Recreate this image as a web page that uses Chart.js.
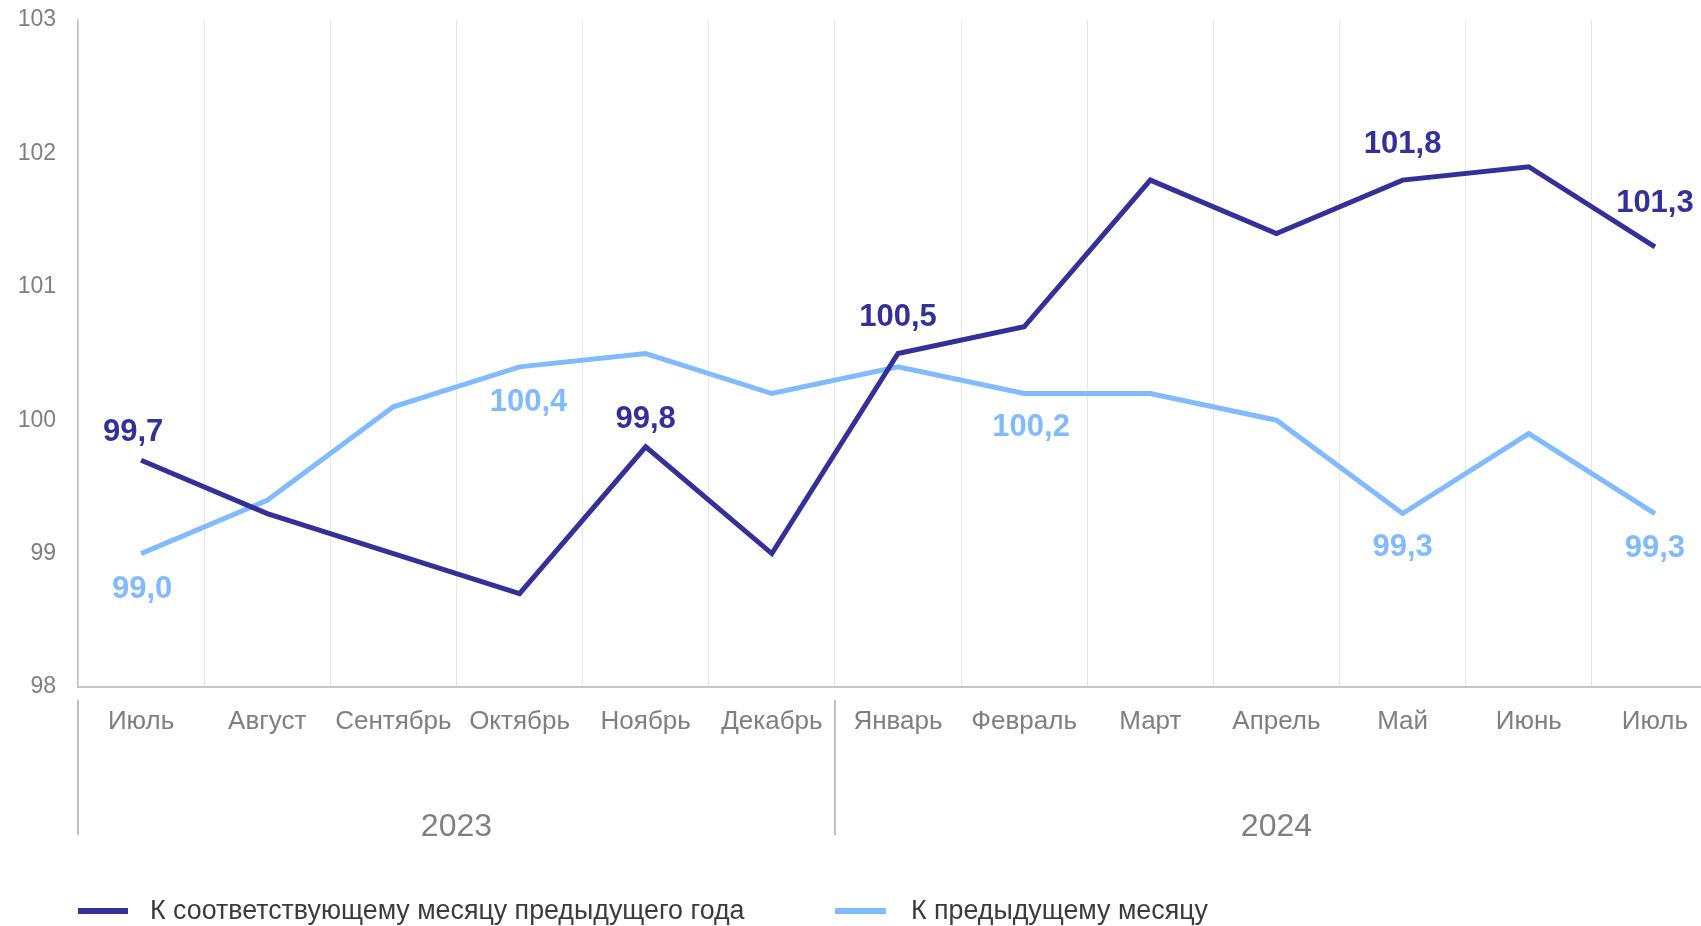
<!DOCTYPE html>
<html lang="ru">
<head>
<meta charset="utf-8">
<script src="https://cdn.jsdelivr.net/npm/chart.js@4.4.1/dist/chart.umd.min.js"></script>
<style>
    html, body { margin: 0; padding: 0; background: #fff; overflow: hidden; }
    #wrap { position: relative; width: 1720px; height: 926px; }
</style>
</head>
<body>
<div id="wrap"><canvas id="chart"></canvas></div>
<script>
// Month categories (Jul 2023 – Jul 2024)
const MONTHS = ['Июль', 'Август', 'Сентябрь', 'Октябрь', 'Ноябрь', 'Декабрь',
    'Январь', 'Февраль', 'Март', 'Апрель', 'Май', 'Июнь', 'Июль'];
const YEARS = ['2023', '2024'];
const YEAR_MONTH_COUNTS = [6, 7];

// Index values, %
const YOY_VALUES = [99.7, 99.3, 99.0, 98.7, 99.8, 99.0, 100.5, 100.7, 101.8, 101.4, 101.8, 101.9, 101.3];
const MOM_VALUES = [99.0, 99.4, 100.1, 100.4, 100.5, 100.2, 100.4, 100.2, 100.2, 100.0, 99.3, 99.9, 99.3];

const Y_MIN = 98;
const Y_MAX = 103;
const Y_STEP = 1;

const SERIES_NAMES = ['К соответствующему месяцу предыдущего года', 'К предыдущему месяцу'];

// Which points get a value label
const YOY_LABELED = [0, 4, 6, 10, 12];
const MOM_LABELED = [0, 3, 7, 10, 12];

const COLORS = { yoy: '#33309a', mom: '#80bcfd', axisText: '#7f7f7f', legendText: '#3b3b3b' };
const FONT = "'Liberation Sans', Arial, sans-serif";

// label placement tweaks (px, relative to the point)
const LABEL_OFFSETS = {
    yoy: { 0: [-8, -28], 4: [0, -27], 6: [0, -36], 10: [0, -36], 12: [0, -43] },
    mom: { 0: [1, 36], 3: [9, 36], 7: [7, 34], 10: [0, 34], 12: [0, 35] }
};

const fmt = (v) => v.toFixed(1).replace('.', ',');

const decorations = {
    id: 'decorations',
    afterDatasetsDraw(chart) {
        const ctx = chart.ctx;
        const x = chart.scales.x;
        const half = (x.getPixelForValue(1) - x.getPixelForValue(0)) / 2;

        // value labels
        ctx.save();
        ctx.font = `bold 31px ${FONT}`;
        ctx.textAlign = 'center';
        ctx.textBaseline = 'middle';
        [['yoy', 0, YOY_LABELED], ['mom', 1, MOM_LABELED]].forEach(([key, dsIndex, idxs]) => {
            const meta = chart.getDatasetMeta(dsIndex);
            ctx.fillStyle = COLORS[key];
            for (const i of idxs) {
                const pt = meta.data[i];
                const [dx, dy] = LABEL_OFFSETS[key][i] || [0, 0];
                ctx.fillText(fmt(chart.data.datasets[dsIndex].data[i]), pt.x + dx, pt.y + dy);
            }
        });

        // year group separators + labels
        ctx.strokeStyle = '#bfbfbf';
        ctx.lineWidth = 2;
        ctx.fillStyle = COLORS.axisText;
        ctx.font = `32px ${FONT}`;
        let start = 0;
        YEARS.forEach((year, g) => {
            const end = start + YEAR_MONTH_COUNTS[g] - 1;
            const left = x.getPixelForValue(start) - half;
            ctx.beginPath();
            ctx.moveTo(left, 700);
            ctx.lineTo(left, 835);
            ctx.stroke();
            const cx = (x.getPixelForValue(start) + x.getPixelForValue(end)) / 2;
            ctx.fillText(year, cx, 827);
            start = end + 1;
        });

        // legend
        const items = [[COLORS.yoy, 78, 128, 150], [COLORS.mom, 835, 886, 911]];
        ctx.font = `26.8px ${FONT}`;
        ctx.textAlign = 'left';
        ctx.lineWidth = 6;
        items.forEach(([color, x0, x1, tx], i) => {
            ctx.strokeStyle = color;
            ctx.beginPath();
            ctx.moveTo(x0, 911);
            ctx.lineTo(x1, 911);
            ctx.stroke();
            ctx.fillStyle = COLORS.legendText;
            ctx.fillText(SERIES_NAMES[i], tx, 912);
        });
        ctx.restore();
    }
};

new Chart(document.getElementById('chart'), {
    type: 'line',
    data: {
        labels: MONTHS,
        datasets: [
            { label: SERIES_NAMES[0], data: YOY_VALUES, borderColor: COLORS.yoy, borderWidth: 5, pointRadius: 0, tension: 0, borderJoinStyle: 'miter' },
            { label: SERIES_NAMES[1], data: MOM_VALUES, borderColor: COLORS.mom, borderWidth: 5, pointRadius: 0, tension: 0, borderJoinStyle: 'miter' }
        ]
    },
    options: {
        responsive: true,
        maintainAspectRatio: false,
        animation: false,
        layout: { padding: { top: 20, right: 2, left: 0, bottom: 0 } },
        plugins: {
            legend: { display: false },
            tooltip: { enabled: false }
        },
        scales: {
            x: {
                offset: true,
                grid: { offset: true, color: '#e6e6e6', lineWidth: 1, drawTicks: false },
                border: { color: '#c8c8c8', width: 2 },
                ticks: {
                    autoSkip: false, maxRotation: 0, padding: 19,
                    color: COLORS.axisText, font: { family: FONT, size: 26 }
                },
                afterFit: (scale) => { scale.height = 239; }
            },
            y: {
                min: Y_MIN,
                max: Y_MAX,
                grid: { display: false, drawTicks: false },
                border: { color: '#c0c0c0', width: 1.5 },
                ticks: {
                    stepSize: Y_STEP, padding: 22,
                    color: COLORS.axisText, font: { family: FONT, size: 23 }
                },
                afterFit: (scale) => {
                    scale.width = 78;
                    scale.paddingTop = 0;
                    scale.paddingBottom = 0;
                }
            }
        }
    },
    plugins: [decorations]
});
</script>
</body>
</html>
